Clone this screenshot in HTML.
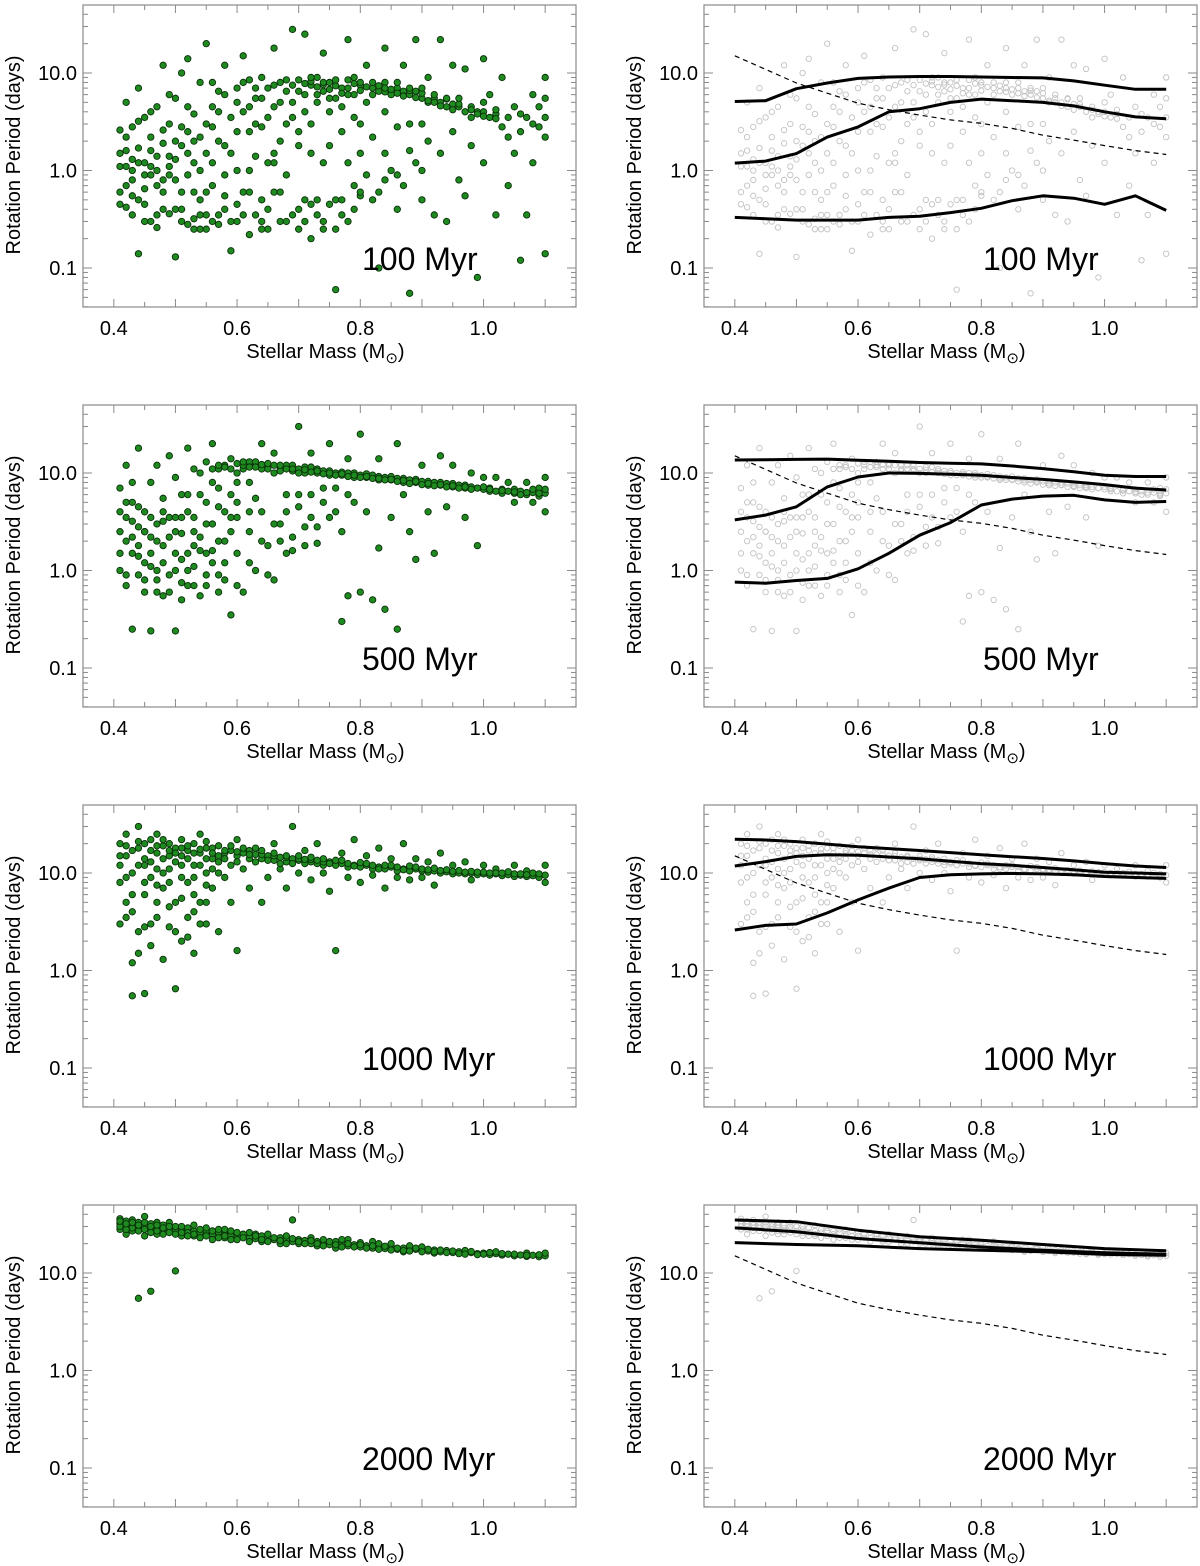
<!DOCTYPE html>
<html><head><meta charset="utf-8"><style>
html,body{margin:0;padding:0;background:#fff}
svg{display:block}
text{font-family:"Liberation Sans",Arial,sans-serif;fill:#000}
</style></head><body>
<svg id="fig" width="1200" height="1566" viewBox="0 0 1200 1566" xmlns="http://www.w3.org/2000/svg"></svg>
<script>
const ages = ["100 Myr","500 Myr","1000 Myr","2000 Myr"];
const xTicks = [0.4,0.6,0.8,1.0];
const xTickLabels = ["0.4","0.6","0.8","1.0"];
const yTicks = [0.1,1,10];
const yTickLabels = ["0.1","1.0","10.0"];
const dashMass = [0.40,0.45,0.50,0.55,0.60,0.65,0.70,0.75,0.80,0.85,0.90,0.95,1.00,1.05,1.10];
const dashPeriod = [15,10.9,7.9,6.2,4.9,4.2,3.7,3.3,3.05,2.7,2.3,2.05,1.8,1.6,1.46];
const lineMass = [0.40,0.45,0.50,0.55,0.60,0.65,0.70,0.75,0.80,0.85,0.90,0.95,1.00,1.05,1.10];
const lineMass4 = [0.4,0.5,0.6,0.7,0.8,0.9,1.0,1.1];
const upper100 = [5.1,5.2,6.9,7.9,8.8,9.1,9.2,9.2,9.1,9.0,8.9,8.3,7.5,6.8,6.8];
const mid100 = [1.19,1.25,1.49,2.2,2.8,4.0,4.3,5.0,5.4,5.2,5.0,4.6,4.0,3.55,3.4];
const low100 = [0.33,0.32,0.31,0.31,0.31,0.33,0.34,0.37,0.41,0.49,0.55,0.52,0.45,0.55,0.39];
const upper500 = [13.6,13.7,13.8,13.9,13.5,13.2,12.8,12.6,12.4,11.8,11.1,10.3,9.5,9.2,9.2];
const mid500 = [3.3,3.7,4.5,7.2,9.1,10.0,9.9,9.7,9.5,9.0,8.6,8.1,7.6,7.0,6.7];
const low500 = [0.76,0.74,0.79,0.83,1.04,1.5,2.3,3.1,4.7,5.4,5.8,5.9,5.3,5.0,5.1];
const upper1000 = [22.2,21.8,21,19.8,18.6,17.8,17,16.2,15.4,14.7,14.1,13.3,12.5,11.8,11.4];
const mid1000 = [11.8,13.1,14.8,15.4,15.2,14.6,14,13.2,12.5,12,11.4,10.8,10.2,10,9.8];
const low1000 = [2.6,2.9,3.0,3.9,5.3,7.0,9.0,9.6,9.8,9.9,9.8,9.6,9.2,9.0,8.8];
const upper2000 = [35,33.6,27.5,23.5,21.7,19.6,17.8,16.9];
const mid2000 = [29,26.5,22.6,20.4,18.5,17.1,16.1,15.6];
const low2000 = [20.5,19.6,19,17.8,17.1,16.5,15.5,15.2];

const base100 = [[0.41,2.6],[0.41,1.1],[0.41,0.45],[0.42,1.6],[0.42,0.7],[0.42,5],[0.43,1.0],[0.43,0.35],[0.43,2.8],[0.44,0.14],[0.44,7],[0.44,1.2],[0.45,0.45],[0.45,3.5],[0.45,0.9],[0.46,1.1],[0.46,0.3],[0.46,1.6],[0.47,0.26],[0.47,4.5],[0.47,1.0],[0.48,12],[0.48,1.9],[0.48,0.6],[0.49,0.36],[0.49,3.0],[0.49,1.4],[0.50,0.13],[0.50,0.8],[0.50,5.5],[0.51,10],[0.51,1.8],[0.51,0.4],[0.52,2.5],[0.52,0.28],[0.52,14],[0.53,0.6],[0.53,3.8],[0.53,1.2],[0.54,0.25],[0.54,2.2],[0.54,8],[0.55,0.35],[0.55,1.5],[0.55,20],[0.56,4.5],[0.56,0.7],[0.56,0.3],[0.57,6.5],[0.57,2.0],[0.58,0.9],[0.58,12],[0.58,0.4],[0.59,3.5],[0.59,0.15],[0.60,7],[0.60,1.0],[0.60,0.3],[0.61,4],[0.61,0.6],[0.61,15],[0.62,2.5],[0.62,0.22],[0.62,8.5],[0.63,5.5],[0.63,1.4],[0.63,0.35],[0.64,9],[0.64,2.8],[0.64,0.5],[0.65,7],[0.65,1.2],[0.65,0.25],[0.66,18],[0.66,4.5],[0.66,0.6],[0.67,8],[0.67,2.0],[0.67,0.3],[0.68,6.5],[0.68,0.9],[0.69,28],[0.69,7.5],[0.69,3.5],[0.70,8.5],[0.70,0.4],[0.70,1.8],[0.71,6],[0.71,25],[0.71,0.5],[0.72,7.5],[0.72,3.0],[0.72,0.2],[0.73,9],[0.73,5],[0.73,0.35],[0.74,6.5],[0.74,16],[0.74,1.2],[0.75,8],[0.75,0.45],[0.75,4],[0.76,5.5],[0.76,0.06],[0.76,0.25],[0.77,7],[0.77,2.5],[0.77,0.5],[0.78,8.5],[0.78,22],[0.78,0.3],[0.79,6],[0.79,0.7],[0.79,3.5],[0.80,7.5],[0.80,1.5],[0.80,0.55],[0.81,12],[0.81,5],[0.81,0.9],[0.82,7],[0.82,2.2],[0.83,6.5],[0.83,0.1],[0.83,0.6],[0.84,8],[0.84,18],[0.84,4],[0.85,6],[0.85,1.0],[0.86,7],[0.86,0.4],[0.86,2.8],[0.87,6.5],[0.87,12],[0.87,0.7],[0.88,6],[0.88,0.055],[0.88,3],[0.89,6.5],[0.89,22],[0.89,1.2],[0.90,5.5],[0.90,0.5],[0.91,5],[0.91,2.0],[0.91,9],[0.92,5.5],[0.92,0.35],[0.93,5],[0.93,22],[0.93,1.5],[0.94,4.5],[0.94,0.3],[0.95,4.8],[0.95,12],[0.95,2.5],[0.96,4.5],[0.96,0.8],[0.97,4],[0.97,11],[0.97,0.55],[0.98,4.5],[0.98,1.8],[0.99,4],[0.99,0.08],[1.00,4],[1.00,14],[1.00,1.2],[1.01,3.5],[1.01,6],[1.02,3.8],[1.02,0.35],[1.03,2.8],[1.03,9],[1.04,3.5],[1.04,0.7],[1.05,4.5],[1.05,1.5],[1.06,2.5],[1.06,0.12],[1.07,3.5],[1.07,0.35],[1.08,6],[1.08,1.2],[1.09,2.8],[1.09,4.5],[1.10,5.5],[1.10,9],[1.10,0.14],[1.10,2.2],
[0.71,7.8],[0.72,8.2],[0.73,7.2],[0.74,7.6],[0.75,6.8],[0.76,7.4],[0.77,6.2],[0.78,7.0],[0.79,7.8],[0.80,6.6],[0.81,7.2],[0.82,6.0],[0.83,7.4],[0.84,6.4],[0.85,6.8],[0.86,6.2],[0.87,5.8],[0.88,6.6],[0.89,5.6],[0.90,6.2],[0.91,5.2],[0.92,5.0],[0.93,4.6],[0.94,5.4],[0.95,4.2],[0.96,4.8],[0.98,4.2],[0.99,3.8],[1.0,3.6],[1.02,3.4],
[0.42,1.1],[0.43,0.55],[0.44,1.7],[0.45,0.3],[0.46,2.2],[0.47,0.7],[0.48,0.4],[0.49,0.9],[0.5,2.0],[0.51,0.3],[0.52,0.9],[0.53,0.32],[0.54,0.5],[0.55,0.25],[0.56,2.8],[0.57,0.35],[0.58,1.8],[0.6,0.45],[0.62,1.0],[0.64,0.25],[0.66,1.5],[0.68,0.3],[0.7,0.25],[0.72,0.45],[0.74,0.3],[0.8,0.6],[0.84,0.8],[0.9,1.0]];
const extra100 = [[0.41,1.5],[0.41,0.6],[0.42,2.2],[0.42,0.42],[0.43,1.3],[0.43,0.8],[0.44,0.5],[0.44,3.2],[0.45,1.2],[0.45,0.65],[0.46,0.9],[0.46,4],[0.47,1.4],[0.47,0.35],[0.48,2.6],[0.48,0.8],[0.49,1.1],[0.49,6],[0.5,0.4],[0.5,1.3],[0.51,2.8],[0.51,0.6],[0.52,1.5],[0.52,4.5],[0.53,0.25],[0.53,2.0],[0.54,1.0],[0.54,0.35],[0.55,3],[0.55,0.6],[0.56,1.2],[0.56,8],[0.57,0.28],[0.57,4],[0.58,0.55],[0.58,6],[0.59,1.5],[0.59,0.3],[0.6,2.5],[0.6,5],[0.61,0.35],[0.61,8],[0.62,4.5],[0.62,0.6],[0.63,3],[0.63,7],[0.64,0.3],[0.64,5.5],[0.65,3.5],[0.65,0.4],[0.66,7.5],[0.66,1.2],[0.67,5],[0.67,0.6],[0.68,3],[0.68,8.5],[0.69,0.35],[0.69,5],[0.7,6.5],[0.7,2.5],[0.71,4],[0.71,0.3],[0.72,9],[0.72,1.5],[0.73,6],[0.73,0.5],[0.74,8],[0.74,0.25],[0.75,5.5],[0.75,1.8],[0.76,8.5],[0.76,0.5],[0.77,4.5],[0.77,0.35],[0.78,6],[0.78,1.2],[0.79,9],[0.79,0.4],[0.8,8],[0.8,3],[0.82,8],[0.82,0.5],[0.84,7],[0.84,1.5],[0.86,8],[0.86,0.9],[0.88,7],[0.88,1.6],[0.9,7],[0.9,3],[0.92,6],[0.94,5.5],[0.96,5.5],[0.98,3.5],[1.0,5],[1.02,4.2],[1.04,2.2],[1.06,3.8],[1.08,3],[1.1,3.5]];

const base500 = [[0.41,7],[0.41,2.5],[0.41,1.0],[0.42,3.5],[0.42,12],[0.42,0.7],[0.43,1.5],[0.43,0.25],[0.43,5],[0.44,2.8],[0.44,0.9],[0.44,18],[0.45,1.2],[0.45,4],[0.45,0.6],[0.46,8],[0.46,2.2],[0.46,0.24],[0.47,3],[0.47,1.0],[0.47,12],[0.48,0.55],[0.48,5.5],[0.48,1.8],[0.49,15],[0.49,3.5],[0.49,0.9],[0.50,0.24],[0.50,2.5],[0.50,9],[0.51,1.3],[0.51,6],[0.51,0.5],[0.52,18],[0.52,4],[0.52,1.0],[0.53,2.5],[0.53,0.7],[0.53,11],[0.54,6],[0.54,1.6],[0.54,0.55],[0.55,13],[0.55,3],[0.55,0.9],[0.56,8],[0.56,1.2],[0.56,20],[0.57,0.6],[0.57,4.5],[0.57,11],[0.58,2],[0.58,12],[0.58,0.8],[0.59,14],[0.59,3.5],[0.59,0.35],[0.60,10],[0.60,1.5],[0.60,5],[0.61,11],[0.61,0.6],[0.62,13],[0.62,2.5],[0.62,8],[0.63,12],[0.63,1.0],[0.64,11],[0.64,4],[0.64,20],[0.65,12],[0.65,1.8],[0.66,10],[0.66,0.8],[0.66,16],[0.67,11],[0.67,3],[0.68,12],[0.68,1.5],[0.68,6],[0.69,10.5],[0.69,2.2],[0.70,11],[0.70,30],[0.70,4.5],[0.71,10],[0.71,1.8],[0.72,11.5],[0.72,6],[0.72,16],[0.73,10],[0.73,2.8],[0.74,10.5],[0.74,5],[0.75,9.5],[0.75,3.5],[0.75,20],[0.76,10],[0.76,7],[0.77,9.5],[0.77,0.3],[0.77,2.5],[0.78,10],[0.78,0.55],[0.78,14],[0.79,9],[0.79,5],[0.80,9.5],[0.80,0.6],[0.80,25],[0.81,9],[0.81,4],[0.82,9.5],[0.82,0.5],[0.83,8.5],[0.83,1.7],[0.83,14],[0.84,9],[0.84,0.4],[0.85,8.5],[0.85,3.5],[0.86,8.8],[0.86,0.25],[0.86,20],[0.87,8],[0.87,6],[0.88,8.5],[0.88,2.5],[0.89,8],[0.89,1.3],[0.90,8.2],[0.90,12],[0.91,7.5],[0.91,4],[0.92,8],[0.92,1.5],[0.93,7.5],[0.93,15],[0.94,7.8],[0.94,4.5],[0.95,7.2],[0.95,12],[0.96,7.5],[0.97,7],[0.97,3.5],[0.98,7.2],[0.98,10],[0.99,7],[0.99,1.8],[1.00,6.8],[1.00,9],[1.01,7],[1.02,6.5],[1.02,9],[1.03,6.8],[1.04,6.5],[1.04,8],[1.05,6.2],[1.05,5],[1.06,6.5],[1.07,6],[1.07,8],[1.08,6.3],[1.08,5],[1.09,6],[1.09,7],[1.10,6.2],[1.10,9],[1.10,4],
[0.56,11],[0.58,11.5],[0.6,12.5],[0.61,12],[0.62,11.5],[0.63,13],[0.64,12.2],[0.65,11],[0.66,12],[0.67,10.5],[0.68,11],[0.69,12],[0.7,10],[0.71,11.5],[0.72,10.2],[0.73,11],[0.74,9.8],[0.75,10.5],[0.76,9.5],[0.77,10.2],[0.78,9.2],[0.79,10],[0.8,9],[0.81,9.8],[0.82,8.8],[0.83,9.2],[0.84,8.5],[0.85,9.2],[0.86,8.2],[0.87,8.8],[0.88,7.8],[0.89,8.6],[0.9,7.6],[0.91,8.2],[0.92,7.4],[0.93,8],[0.94,7.2],[0.95,7.8],[0.96,7],[0.97,7.5],[0.98,6.8],[1.0,7.2],[1.01,6.5],[1.03,6.2],[1.05,6.8],[1.06,6],[1.08,6.8],[1.09,5.8],
[0.42,5],[0.43,2.2],[0.44,1.4],[0.45,2.5],[0.46,1.5],[0.47,0.6],[0.48,3.2],[0.5,1.5],[0.51,3.5],[0.52,0.7],[0.53,1.8],[0.55,1.5],[0.57,0.9],[0.6,0.7],[0.62,1.2],[0.65,0.9],[0.67,2],[0.69,1.6],[0.71,2.8],[0.73,1.9]];
const extra500 = [[0.41,4],[0.41,1.5],[0.42,2],[0.42,0.9],[0.43,3.2],[0.43,8],[0.44,1.8],[0.44,4.5],[0.45,0.8],[0.45,2.5],[0.46,3.5],[0.46,1.1],[0.47,2],[0.47,0.8],[0.48,4],[0.48,1.2],[0.49,2.2],[0.49,0.6],[0.5,3.5],[0.5,1],[0.51,2.4],[0.51,0.75],[0.52,6],[0.52,1.5],[0.53,3.5],[0.53,1.1],[0.54,2.2],[0.54,10],[0.55,5],[0.55,0.7],[0.56,3],[0.56,1.6],[0.57,2],[0.57,7],[0.58,4],[0.58,1.2],[0.59,6],[0.59,2.5],[0.6,3.5],[0.6,8],[0.62,4],[0.63,5.5],[0.64,2],[0.66,3],[0.68,4],[0.7,6],[0.72,3.5],[0.74,7],[0.76,4],[0.78,6],
[0.57,12],[0.59,11],[0.61,13],[0.63,11.5],[0.65,12.5],[0.67,12],[0.69,11],[0.71,10.8],[0.73,10.5],[0.75,10],[0.77,9.8],[0.79,9.5],[0.81,9.2],[0.83,8.8],[0.85,8.6],[0.87,8.4],[0.89,8.2],[0.91,7.8],[0.93,7.6],[0.95,7.4],[0.97,7.2],[0.99,7],[1.01,6.8],[1.03,6.6],[1.05,6.4],[1.07,6.3],[1.09,6.2],[1.1,6.8]];

const base1000 = [[0.41,20],[0.41,8],[0.41,3],[0.42,15],[0.42,25],[0.42,5],[0.43,1.2],[0.43,10],[0.43,0.55],[0.44,18],[0.44,2.5],[0.44,30],[0.45,12],[0.45,0.58],[0.45,6],[0.46,22],[0.46,1.8],[0.46,9],[0.47,16],[0.47,3.5],[0.47,25],[0.48,14],[0.48,1.3],[0.48,7],[0.49,20],[0.49,2.8],[0.49,11],[0.50,18],[0.50,0.65],[0.50,5],[0.51,15],[0.51,22],[0.51,2],[0.52,17],[0.52,8],[0.52,3.5],[0.53,20],[0.53,12],[0.53,1.5],[0.54,16],[0.54,5],[0.54,25],[0.55,18],[0.55,3],[0.55,10],[0.56,14],[0.56,7],[0.57,19],[0.57,2.5],[0.57,15],[0.58,16],[0.58,9],[0.59,17],[0.59,5],[0.60,15],[0.60,1.6],[0.60,22],[0.61,16],[0.61,11],[0.62,14],[0.62,7],[0.63,15.5],[0.63,18],[0.64,14],[0.64,5],[0.65,15],[0.65,9],[0.66,13.5],[0.66,20],[0.67,14.5],[0.67,11],[0.68,13],[0.68,7],[0.69,14],[0.69,30],[0.70,13.5],[0.70,10],[0.71,12.5],[0.71,17],[0.72,13],[0.72,8.5],[0.73,12.5],[0.73,20],[0.74,12],[0.74,10],[0.75,13],[0.75,6.5],[0.76,12],[0.76,1.6],[0.77,12.5],[0.77,16],[0.78,11.5],[0.78,9],[0.79,12],[0.79,22],[0.80,11.5],[0.80,8],[0.81,12],[0.81,15],[0.82,11],[0.82,9.5],[0.83,11.5],[0.83,18],[0.84,11],[0.84,7],[0.85,11.5],[0.85,14],[0.86,10.5],[0.86,9],[0.87,11],[0.87,20],[0.88,10.5],[0.88,8.5],[0.89,11],[0.89,14],[0.90,10.5],[0.90,9],[0.91,10.2],[0.91,13],[0.92,10.5],[0.92,7.5],[0.93,10],[0.93,16],[0.94,10.3],[0.95,9.8],[0.95,12],[0.96,10],[0.97,9.8],[0.97,13],[0.98,10],[0.98,8.5],[0.99,9.6],[1.00,9.8],[1.00,12],[1.01,9.5],[1.02,9.8],[1.02,11],[1.03,9.4],[1.04,9.6],[1.05,9.2],[1.05,12],[1.06,9.5],[1.07,9.2],[1.07,10.5],[1.08,9.4],[1.09,9],[1.10,9.5],[1.10,12],[1.10,8],
[0.42,19],[0.44,21],[0.46,17],[0.48,19],[0.5,16],[0.52,19],[0.54,17.5],[0.56,18],[0.58,17],[0.6,16.5],[0.62,17],[0.64,15.5],[0.66,15],[0.68,14.5],[0.7,14],[0.72,13.8],[0.74,13],[0.76,13.5],[0.78,12.5],[0.8,12.8],[0.82,12],[0.84,12],[0.86,11.5],[0.88,11.8],[0.9,11],[0.92,11.2],[0.94,10.8],[0.96,10.6],[0.98,10.4],[1.0,10.2],[1.02,10],[1.04,10.3],[1.06,9.8],[1.08,10],[0.45,14],[0.47,11],[0.49,15],[0.51,12],[0.53,6],[0.55,14],[0.57,10],[0.59,12],[0.43,4],[0.45,2.8],[0.47,7.5],[0.49,4.5],[0.51,5.5],[0.53,4],[0.55,7.5]];
const extra1000 = [[0.41,12],[0.41,15],[0.42,9],[0.42,3.5],[0.43,17],[0.43,6],[0.44,12],[0.44,1.5],[0.45,20],[0.45,8],[0.46,13],[0.46,3],[0.47,19],[0.47,5],[0.48,22],[0.48,10],[0.49,8],[0.49,17],[0.5,13],[0.5,2.5],[0.51,9],[0.51,18],[0.52,14],[0.52,2.2],[0.53,16],[0.53,9],[0.54,12],[0.54,3],[0.55,21],[0.55,5],[0.56,16],[0.56,11],[0.57,13],[0.58,14],[0.59,19],[0.6,13],[0.61,18],[0.62,15.5],[0.63,13],[0.64,17],[0.65,13.5],[0.66,16],[0.67,12.5],[0.68,15],[0.69,12.5],[0.7,15],[0.71,13.8],[0.72,14.5],[0.73,13.5],[0.74,14],[0.75,12.5],[0.77,13.5],[0.79,11.8],[0.81,12.5],[0.83,11],[0.85,12],[0.87,10.8],[0.89,11.5],[0.91,10.8],[0.93,10.6],[0.95,10.4],[0.97,10.2],[0.99,10.2],[1.01,10],[1.03,10],[1.05,9.8],[1.07,9.6],[1.09,9.8]];

const base2000 = [[0.41,32],[0.41,28],[0.41,36],[0.42,30],[0.42,25],[0.42,34],[0.43,31],[0.43,27],[0.44,33],[0.44,5.5],[0.44,29],[0.45,30],[0.45,24],[0.45,38],[0.46,28],[0.46,6.5],[0.46,32],[0.47,29],[0.47,25],[0.48,31],[0.48,27],[0.49,28],[0.49,33],[0.50,27],[0.50,10.5],[0.50,30],[0.51,28],[0.51,24],[0.52,29],[0.52,26],[0.53,27],[0.53,31],[0.54,26],[0.54,23],[0.55,27],[0.55,29],[0.56,25],[0.56,22],[0.57,26],[0.57,28],[0.58,25],[0.58,23],[0.59,24],[0.59,27],[0.60,24],[0.60,22],[0.61,25],[0.62,23],[0.62,26],[0.63,22.5],[0.64,24],[0.64,21],[0.65,23],[0.65,25],[0.66,22],[0.67,23],[0.67,20],[0.68,22],[0.69,21],[0.69,35],[0.70,22],[0.70,20],[0.71,21.5],[0.72,20],[0.72,23],[0.73,21],[0.74,20],[0.74,22],[0.75,19.5],[0.76,21],[0.76,18],[0.77,20],[0.78,19],[0.78,22],[0.79,19.5],[0.80,18.5],[0.80,20.5],[0.81,19],[0.82,18],[0.82,21],[0.83,18.5],[0.84,17.8],[0.85,18.5],[0.85,20],[0.86,17.5],[0.87,18],[0.88,17.2],[0.88,19],[0.89,17.5],[0.90,17],[0.90,18.5],[0.91,16.8],[0.92,17.2],[0.93,16.5],[0.94,17],[0.95,16.2],[0.96,16.5],[0.97,16],[0.98,16.2],[0.99,15.8],[1.00,16],[1.01,15.5],[1.02,15.8],[1.03,15.3],[1.04,15.6],[1.05,15],[1.06,15.3],[1.07,14.8],[1.08,15.2],[1.09,14.7],[1.10,15],[1.10,16],[0.43,35],[0.47,33],[0.53,24],[0.58,28],[0.63,25],[0.68,24],[0.73,19],[0.77,22],[0.83,20],[0.87,16.5],[0.92,16],[0.97,17],[1.02,16.5],[1.07,16]];
const extra2000 = [[0.41,30],[0.41,34],[0.42,28],[0.42,32],[0.43,29],[0.43,33],[0.44,27],[0.44,31],[0.45,28],[0.45,33],[0.46,26],[0.46,30],[0.47,27],[0.47,31],[0.48,25],[0.48,29],[0.49,26],[0.49,30],[0.5,25],[0.51,26],[0.51,30],[0.52,24],[0.53,25],[0.54,28],[0.55,24],[0.56,27],[0.57,23],[0.58,24],[0.59,22],[0.6,26],[0.61,23],[0.62,21],[0.63,24],[0.64,22],[0.65,21],[0.66,23],[0.67,21.5],[0.68,20],[0.69,22.5],[0.7,21],[0.71,20],[0.72,21.5],[0.73,20],[0.74,19],[0.75,21],[0.76,19.5],[0.77,18.5],[0.78,20],[0.79,18.5],[0.8,19.5],[0.81,18],[0.82,19],[0.83,17.5],[0.84,18.8],[0.85,17.2],[0.86,18],[0.87,17],[0.88,16.8],[0.89,18],[0.9,16.5],[0.91,17.5],[0.92,16.5],[0.93,17.2],[0.94,16.2],[0.95,16.8],[0.96,15.8],[0.97,15.6],[0.98,16.6],[0.99,15.4],[1.0,15.6],[1.01,16.2],[1.03,15.8],[1.05,15.6],[1.07,15.2],[1.09,15.4]];

const stars100 = base100.concat(extra100);
const stars500 = base500.concat(extra500);
const stars1000 = base1000.concat(extra1000);
const stars2000 = base2000.concat(extra2000);

const NS = "http://www.w3.org/2000/svg";
const svg = document.getElementById('fig');
function mk(tag, attrs, parent){
  const e = document.createElementNS(NS, tag);
  for (const k in attrs) e.setAttribute(k, attrs[k]);
  (parent||svg).appendChild(e);
  return e;
}
const PW = 493, PH = 302;
const XMIN = 0.35, XMAX = 1.15;
const LOGTOP = 1 + 68/97.5, LOGBOT = LOGTOP - PH/97.5;
function xScale(x0, m){ return x0 + (m - XMIN)/(XMAX - XMIN)*PW; }
function yScale(y0, p){ return y0 + (LOGTOP - Math.log10(p))/(LOGTOP - LOGBOT)*PH; }

const starSets = [stars100, stars500, stars1000, stars2000];
const bands = [[upper100,mid100,low100],[upper500,mid500,low500],[upper1000,mid1000,low1000],[upper2000,mid2000,low2000]];

function axes(g, x0, y0){
  mk('rect',{x:x0,y:y0,width:PW,height:PH,fill:'none',stroke:'#8a8a8a','stroke-width':1.2},g);
  for (let i=0;i<=16;i++){
    const m = XMIN + i*0.05; const x = xScale(x0,m);
    const len = (Math.round(m*100)%10===0)?8:5;
    mk('line',{x1:x,y1:y0+PH,x2:x,y2:y0+PH-len,stroke:'#8a8a8a'},g);
    mk('line',{x1:x,y1:y0,x2:x,y2:y0+len,stroke:'#8a8a8a'},g);
  }
  for (let d=-2; d<=1; d++){
    for (let k=1;k<=9;k++){
      const p = k*Math.pow(10,d); const lp=Math.log10(p);
      if (lp>LOGTOP || lp<LOGBOT) continue;
      const y = yScale(y0,p); const len = k===1?9:5;
      mk('line',{x1:x0,y1:y,x2:x0+len,y2:y,stroke:'#8a8a8a'},g);
      mk('line',{x1:x0+PW,y1:y,x2:x0+PW-len,y2:y,stroke:'#8a8a8a'},g);
    }
  }
  xTicks.forEach((m,i)=>{
    const t = mk('text',{x:xScale(x0,m),y:y0+PH+28,'text-anchor':'middle','font-size':20},g);
    t.textContent = xTickLabels[i];
    
    
  });
  yTicks.forEach((p,i)=>{
    const t = mk('text',{x:x0-6,y:yScale(y0,p)+7,'text-anchor':'end','font-size':20},g);
    t.textContent = yTickLabels[i];
    
    
  });
  const xt = mk('text',{x:x0+PW/2-4,y:y0+PH+51,'text-anchor':'middle','font-size':20},g);
  xt.innerHTML = 'Stellar Mass (M<tspan font-size="15" dy="5">⊙</tspan><tspan dy="-5">)</tspan>';
  
  
  const yt = mk('text',{x:0,y:0,'text-anchor':'middle','font-size':20,transform:`translate(${x0-63},${y0+150}) rotate(-90)`},g);
  yt.textContent = 'Rotation Period (days)';
  
  
}
function pathFrom(x0,y0,ms,ps){
  return ms.map((m,i)=>(i?'L':'M')+xScale(x0,m).toFixed(1)+','+yScale(y0,ps[i]).toFixed(1)).join(' ');
}

for (let r=0;r<4;r++){
  const y0 = 5 + 400*r;
  const gl = mk('g',{});
  
  
  const lx = 83;
  starSets[r].forEach(s=>{
    const c = mk('circle',{cx:xScale(lx,s[0]),cy:yScale(y0,s[1]),r:3.2,fill:'#1f8a1f',stroke:'#0a300a','stroke-width':0.9},gl);
    
    
  });
  axes(gl, lx, y0);
  const al = mk('text',{x:362,y:y0+265,'font-size':32},gl);
  al.textContent = ages[r];
  
  

  const gr = mk('g',{});
  
  
  const rx = 704;
  starSets[r].forEach(s=>{
    const c = mk('circle',{cx:xScale(rx,s[0]),cy:yScale(y0,s[1]),r:2.7,fill:'none',stroke:'#c2c2c2','stroke-width':0.9},gr);
    
    
  });
  const ms = r===3 ? lineMass4 : lineMass;
  const names = ['upper-percentile-line','median-line','lower-percentile-line'];
  bands[r].forEach((arr,i)=>{
    const p = mk('path',{d:pathFrom(rx,y0,ms,arr),fill:'none',stroke:'#000','stroke-width':3,'stroke-linejoin':'round'},gr);
    
    
  });
  const dl = mk('path',{d:pathFrom(rx,y0,dashMass,dashPeriod),fill:'none',stroke:'#000','stroke-width':1.2,'stroke-dasharray':'5,4'},gr);
  
  
  axes(gr, rx, y0);
  const ar = mk('text',{x:983,y:y0+265,'font-size':32},gr);
  ar.textContent = ages[r];
  
  
}
</script>
</body></html>
